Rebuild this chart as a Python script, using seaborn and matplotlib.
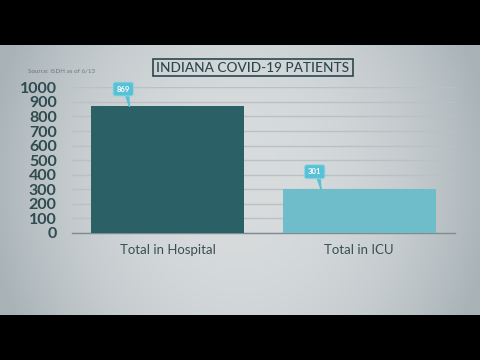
import numpy as np
import pandas as pd
import matplotlib
matplotlib.use("Agg")
import matplotlib.pyplot as plt
import seaborn as sns

categories = ["Total in Hospital", "Total in ICU"]
values = [869, 301]
bar_colors = ["#2b6067", "#6fbdcb"]
yticks = list(range(0, 1001, 100))
title = "INDIANA COVID-19 PATIENTS"
source = "Source: ISDH as of 6/13"

sns.set_theme(style="white")
plt.rcParams["font.family"] = ["Lato", "DejaVu Sans"]

fig = plt.figure(figsize=(4.8, 3.6), dpi=100)
fig.patch.set_facecolor("black")

# background panel with vignette
bg = fig.add_axes([0, 0.125, 1, 0.75])
bg.set_axis_off()
xx, yy = np.meshgrid(np.linspace(-1, 1, 480), np.linspace(-1, 1, 270))
r = np.sqrt((xx * 0.95) ** 2 + (yy * 0.45) ** 2)
center = np.array([0.847, 0.862, 0.867])
edge = np.array([0.66, 0.70, 0.72])
t = np.clip(r, 0, 1) ** 2.2
img = center[None, None, :] * (1 - t[..., None]) + edge[None, None, :] * t[..., None]
bg.imshow(img, aspect="auto", extent=[0, 1, 0, 1])
bg.set_xlim(0, 1)
bg.set_ylim(0, 1)

ax = fig.add_axes([0.15, 0.3528, 0.798, 0.4047])
ax.patch.set_alpha(0)
df = pd.DataFrame({"category": categories, "value": values})
sns.barplot(data=df, x="category", y="value", hue="category",
            palette=bar_colors, legend=False, width=0.8, ax=ax,
            saturation=1, linewidth=0, edgecolor="none", zorder=3)
ax.set_xlim(-0.5, 1.5)
ax.set_ylim(0, 1000)
ax.set_yticks(yticks)
ax.set_yticklabels([str(v) for v in yticks])
ax.grid(axis="y", color="#b9c1c4", lw=1, zorder=0)
ax.set_axisbelow(True)
for s in ["top", "right", "left"]:
    ax.spines[s].set_visible(False)
ax.spines["bottom"].set_color("#7f8b8f")
ax.spines["bottom"].set_linewidth(1)
ax.tick_params(axis="y", length=0, pad=11, labelsize=11.5, labelcolor="#2e4b50")
for lbl in ax.get_yticklabels():
    lbl.set_fontweight("bold")
ax.tick_params(axis="x", which="major", length=0, pad=8, labelsize=9.5, labelcolor="#3a4f53")
ax.set_xticks([-0.5, 0.5, 1.5], minor=True)
ax.tick_params(axis="x", which="minor", length=3, width=1, color="#7f8b8f", direction="out")
ax.set_xlabel("")
ax.set_ylabel("")

for i, v in enumerate(values):
    ax.annotate(str(v), xy=(i - 0.2, v), xytext=(-4.5, 12.5), textcoords="offset points",
                ha="center", va="center", fontsize=5.5, fontweight="bold", color="white",
                bbox=dict(boxstyle="round,pad=0.45,rounding_size=0.3", fc="#58c1d5", ec="#8fd6e4", lw=0.6),
                arrowprops=dict(arrowstyle="wedge,tail_width=0.35", fc="#58c1d5", ec="#58c1d5",
                                shrinkA=0, shrinkB=0, relpos=(0.75, 0.0)),
                annotation_clip=False, zorder=5)

fig.text(0.527, 0.8125, title, ha="center", va="center", fontsize=9.8, color="#2c474c",
         fontweight="medium",
         bbox=dict(boxstyle="square,pad=0.22", fc="none", ec="#2c474c", lw=1.2))
fig.text(0.058, 0.803, source, ha="left", va="center", fontsize=4.5, color="#6b787c")

fig.savefig("out.png", dpi=100, facecolor=fig.get_facecolor())
